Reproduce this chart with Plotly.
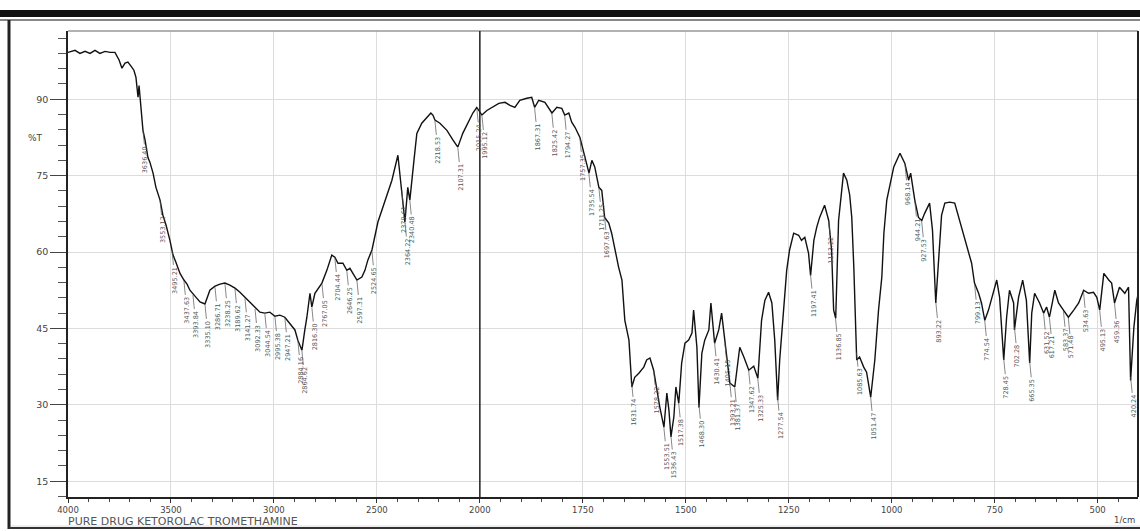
import numpy as np
import plotly.graph_objects as go

# ---------------- data ----------------
wavenumber = [4000, 3966, 3942, 3917, 3893, 3869, 3845, 3820, 3796, 3772, 3752, 3738, 3723, 3709,
              3694, 3680, 3670, 3660, 3655, 3646, 3636, 3626, 3612, 3602, 3587, 3573, 3553, 3539,
              3524, 3505, 3490, 3476, 3456, 3437, 3422, 3408, 3393, 3374, 3359, 3335, 3311, 3286,
              3262, 3238, 3214, 3189, 3165, 3141, 3117, 3092, 3068, 3044, 3020, 2995, 2971, 2947,
              2927, 2913, 2898, 2884, 2874, 2864, 2850, 2840, 2825, 2816, 2801, 2786, 2767, 2743,
              2719, 2704, 2689, 2665, 2646, 2631, 2617, 2597, 2573, 2558, 2544, 2524, 2495, 2461,
              2427, 2398, 2379, 2364, 2350, 2340, 2320, 2306, 2282, 2253, 2238, 2228, 2218, 2194,
              2160, 2131, 2107, 2083, 2058, 2034, 2015,
              1995, 1983, 1971, 1954, 1939, 1927, 1915, 1903, 1886, 1874, 1867, 1857, 1842, 1825,
              1813, 1801, 1794, 1784, 1777, 1769, 1757, 1745, 1735, 1728, 1721, 1711, 1704, 1697,
              1687, 1680, 1672, 1663, 1655, 1648, 1638, 1631, 1624, 1614, 1602, 1595, 1587, 1578,
              1570, 1563, 1553, 1546, 1541, 1536, 1529, 1524, 1517, 1510, 1502, 1493, 1485, 1481,
              1473, 1468, 1461, 1454, 1444, 1439, 1430, 1420, 1413, 1405, 1393, 1381, 1369, 1359,
              1347, 1335, 1325, 1316, 1308, 1299, 1291, 1284, 1277, 1272, 1262, 1255, 1248, 1238,
              1226, 1219, 1211, 1202, 1197, 1189, 1182, 1175, 1163, 1153, 1146, 1141, 1136, 1129,
              1117, 1109, 1102, 1097, 1092, 1085, 1078, 1068, 1061, 1051, 1041, 1032, 1024, 1019,
              1012, 1005, 995, 980, 968, 959, 954, 944, 935, 927, 920, 908, 901, 893, 886, 879,
              871, 859, 847, 830, 813, 806, 799, 789, 782, 774, 765, 757, 745, 738, 728, 721, 714,
              704, 702, 692, 682, 673, 665, 660, 653, 641, 631, 624, 617, 604, 595, 583, 571, 558,
              546, 534, 522, 510, 502, 495, 485, 473, 466, 459, 447, 434, 425, 420, 412, 405, 398]

transmittance = [99.2, 99.6, 99.0, 99.4, 99.0, 99.6, 99.0, 99.4, 99.2, 99.2, 97.7, 96.1, 97.1, 97.3,
                 96.5, 95.7, 94.3, 90.4, 92.7, 88.4, 83.9, 82.0, 78.6, 77.6, 75.5, 72.7, 70.2, 67.2,
                 65.3, 62.3, 59.4, 58.0, 55.8, 54.5, 53.7, 52.5, 51.7, 50.9, 50.2, 49.8, 52.5, 53.3,
                 53.7, 53.9, 53.5, 52.9, 52.1, 51.1, 50.2, 49.0, 48.2, 48.0, 48.2, 47.4, 47.6, 47.2,
                 46.2, 45.4, 44.7, 42.7, 41.7, 40.7, 44.7, 47.2, 51.9, 49.2, 51.9, 52.9, 53.9, 56.4,
                 59.4, 59.0, 57.8, 57.8, 56.4, 56.8, 55.8, 54.5, 55.1, 56.4, 58.4, 60.4, 65.9, 70.2,
                 74.1, 79.0, 72.1, 65.9, 72.7, 70.2, 78.0, 83.3, 85.3, 86.5, 87.3, 86.9, 85.9, 85.3,
                 83.9, 82.0, 80.6, 83.3, 85.3, 87.3, 88.4,
                 86.9, 87.8, 88.4, 89.2, 89.4, 88.8, 88.4, 89.8, 90.2, 90.4, 88.4, 89.8, 89.4, 87.3,
                 88.4, 88.2, 86.9, 87.3, 85.5, 84.5, 82.5, 78.6, 75.5, 78.0, 76.7, 72.7, 72.1, 66.8,
                 65.7, 63.7, 60.4, 57.0, 54.5, 46.6, 42.7, 33.5, 35.4, 36.2, 37.4, 38.8, 39.2, 36.8,
                 32.9, 29.5, 25.6, 32.3, 29.0, 23.7, 27.6, 33.5, 30.3, 38.2, 42.1, 42.7, 44.1, 48.6,
                 41.3, 29.5, 40.1, 42.7, 44.7, 50.0, 42.1, 44.7, 48.0, 42.1, 34.3, 33.5, 41.3, 39.4,
                 36.8, 37.6, 35.2, 46.6, 50.5, 52.1, 50.0, 42.7, 30.9, 38.8, 48.6, 56.4, 60.4, 63.7,
                 63.3, 62.3, 62.9, 59.8, 55.4, 62.3, 64.9, 66.8, 69.2, 66.2, 60.4, 48.6, 47.0, 66.2,
                 75.5, 74.1, 71.2, 66.8, 57.0, 38.8, 39.4, 37.4, 36.4, 31.5, 38.8, 48.6, 55.1, 63.7,
                 70.2, 72.7, 76.7, 79.4, 77.4, 74.1, 75.5, 70.2, 66.8, 66.2, 67.6, 69.6, 64.3, 50.0,
                 58.4, 67.2, 69.6, 69.8, 69.6, 64.9, 59.8, 57.8, 53.9, 51.9, 50.0, 46.6, 48.6, 51.1,
                 54.5, 51.1, 38.8, 47.2, 52.5, 50.0, 44.7, 51.1, 54.5, 50.5, 38.2, 48.0, 51.9, 50.0,
                 48.0, 49.2, 47.2, 52.5, 50.0, 48.6, 47.2, 48.6, 50.0, 52.5, 51.9, 52.1, 51.1, 48.6,
                 55.8, 54.5, 53.9, 50.0, 53.1, 51.9, 53.1, 34.8, 45.2, 50.5, 53.1]

peak_wavenumbers = [3636.40, 3553.12, 3495.21, 3437.63, 3393.84, 3335.10, 3286.71, 3238.25, 3189.62,
                    3141.27, 3092.33, 3044.54, 2995.38, 2947.21, 2884.16, 2864.62, 2816.30, 2767.05,
                    2704.44, 2646.25, 2597.31, 2524.65, 2379.61, 2364.22, 2340.48, 2218.53, 2107.31,
                    2015.24,
                    1995.12, 1867.31, 1825.42, 1794.27, 1757.35, 1735.54, 1711.25, 1697.63, 1631.74,
                    1578.22, 1553.51, 1536.43, 1517.38, 1468.30, 1430.41, 1405.15, 1393.21, 1381.37,
                    1347.62, 1325.33, 1277.54, 1197.41, 1153.22, 1136.85, 1085.63, 1051.47, 968.14,
                    944.21, 927.53, 893.22, 799.13, 774.54, 728.45, 702.28, 665.35, 631.52, 617.21,
                    583.37, 571.48, 534.63, 495.13, 459.36, 420.24]

major_tick_labels = [4000, 3500, 3000, 2500, 2000, 1750, 1500, 1250, 1000, 750, 500]
y_tick_labels = [15, 30, 45, 60, 75, 90]

# --------------- helpers ---------------
def wn_to_pos(w):
    w = np.asarray(w, dtype=float)
    return np.where(w >= 2000, (4000 - w) / 2.0, 1000 + (2000 - w))

W, H = 1140, 531
ML, MR, MT, MB = 68, 2, 31, 34
PW, PH = W - ML - MR, H - MT - MB

def px(x):
    return (x - ML) / PW

def py(y):
    return (H - MB - y) / PH

wn_arr = np.array(wavenumber, dtype=float)
t_arr = np.array(transmittance, dtype=float)
xpos = wn_to_pos(wn_arr)

minor_wn = list(range(3900, 2000, -100)) + list(range(1950, 399, -50))

fig = go.Figure()
fig.add_trace(go.Scatter(x=xpos, y=t_arr, mode="lines",
                         line=dict(color="#111111", width=1.4), showlegend=False,
                         hoverinfo="skip"))

annotations = []
order = np.argsort(wn_arr)
for pw in peak_wavenumbers:
    ty = float(np.interp(pw, wn_arr[order], t_arr[order]))
    annotations.append(dict(
        x=float(wn_to_pos(pw)), y=ty, xref="x", yref="y",
        text=f"{pw:.2f}", textangle=-90, showarrow=True, arrowhead=0,
        arrowwidth=0.7, arrowcolor="#555555", ax=3, ay=30, standoff=1,
        font=dict(family="DejaVu Sans", size=6.5, color="#555555")))

annotations += [
    dict(x=px(35), y=py(138), xref="paper", yref="paper", text="%T", showarrow=False,
         xanchor="center", yanchor="middle",
         font=dict(family="DejaVu Sans", size=9, color="#444444")),
    dict(x=px(66), y=py(521), xref="paper", yref="paper", xanchor="left", yanchor="middle",
         text="PURE DRUG KETOROLAC TROMETHAMINE", showarrow=False,
         font=dict(family="DejaVu Sans", size=11, color="#555555")),
    dict(x=px(1137), y=py(520), xref="paper", yref="paper", xanchor="right", yanchor="middle",
         text="1/cm", showarrow=False,
         font=dict(family="DejaVu Sans", size=8.5, color="#444444")),
]

shapes = [
    # thick black bar at top
    dict(type="rect", xref="paper", yref="paper", x0=px(0), x1=px(1140), y0=py(17), y1=py(10),
         fillcolor="#111111", line=dict(width=0)),
    dict(type="line", xref="paper", yref="paper", x0=px(0), x1=px(1140), y0=py(20), y1=py(20),
         line=dict(color="#888888", width=2)),
    # left dark border
    dict(type="line", xref="paper", yref="paper", x0=px(9), x1=px(9), y0=py(20), y1=py(529),
         line=dict(color="#222222", width=3)),
    # bottom band and border
    dict(type="rect", xref="paper", yref="paper", x0=px(11), x1=px(1140), y0=py(527), y1=py(525),
         fillcolor="#eeeeee", line=dict(width=0), layer="below"),
    dict(type="line", xref="paper", yref="paper", x0=px(9), x1=px(1140), y0=py(528), y1=py(528),
         line=dict(color="#333333", width=2)),
    # plot frame top and right
    dict(type="line", xref="paper", yref="paper", x0=0, x1=1, y0=1, y1=1,
         line=dict(color="#999999", width=1.5)),
    dict(type="line", xref="paper", yref="paper", x0=1, x1=1, y0=0, y1=1.0,
         line=dict(color="#222222", width=2)),
    # dark divider at 2000
    dict(type="line", xref="x", yref="paper", x0=float(wn_to_pos(2000)), x1=float(wn_to_pos(2000)),
         y0=0, y1=1, line=dict(color="#222222", width=1.5)),
]

fig.update_layout(
    width=W, height=H,
    margin=dict(l=ML, r=MR, t=MT, b=MB, pad=0),
    paper_bgcolor="white", plot_bgcolor="white",
    showlegend=False,
    annotations=annotations, shapes=shapes,
    xaxis=dict(
        range=[0, float(wn_to_pos(400)) - 2],
        tickmode="array",
        tickvals=[float(v) for v in wn_to_pos(major_tick_labels)],
        ticktext=[str(v) for v in major_tick_labels],
        ticks="outside", ticklen=4, tickcolor="#333333", tickwidth=1,
        showgrid=True, gridcolor="#dcdcdc", gridwidth=1,
        showline=True, linecolor="#222222", linewidth=1.5,
        zeroline=False,
        tickfont=dict(family="DejaVu Sans", size=8.5, color="#444444"),
        minor=dict(tickmode="array", tickvals=[float(v) for v in wn_to_pos(minor_wn)],
                   ticks="outside", ticklen=3, tickcolor="#444444", showgrid=False),
    ),
    yaxis=dict(
        range=[11.9, 103.4],
        tickmode="array", tickvals=y_tick_labels, ticktext=[str(v) for v in y_tick_labels],
        ticks="outside", ticklen=16, tickcolor="#444444", tickwidth=1,
        showgrid=True, gridcolor="#dcdcdc", gridwidth=1,
        showline=True, linecolor="#222222", linewidth=1.5,
        zeroline=False,
        tickfont=dict(family="DejaVu Sans", size=9.5, color="#444444"),
        minor=dict(tickmode="linear", tick0=0, dtick=3, ticks="outside", ticklen=8,
                   tickcolor="#555555", showgrid=False),
    ),
)

fig.write_html("out.html", config={"displayModeBar": False},
               post_script="document.body.style.margin='0';document.body.style.padding='0';")
